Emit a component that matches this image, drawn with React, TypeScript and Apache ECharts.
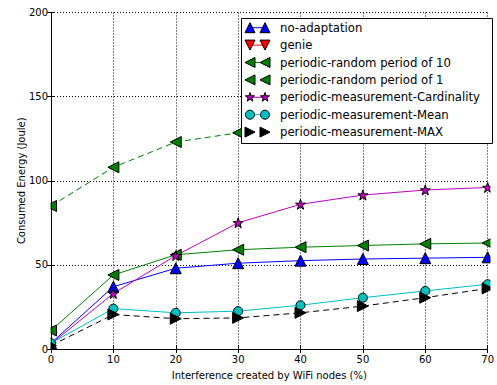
import React, { useEffect, useRef } from 'react';
import * as echarts from 'echarts';

const xValues = [0, 10, 20, 30, 40, 50, 60, 70];
const noAdaptation = [3.5, 37, 48, 51, 52.5, 53.5, 54, 54.5];
const genie: number[] = [];
const period10 = [11, 44, 56, 59, 60.5, 61.5, 62.5, 63];
const period1 = [85, 108, 123, 128.5, 131, 133, 135, 136.5];
const cardinality = [3, 33, 55.5, 75, 86, 91.5, 94.5, 96];
const meanSeries = [3.5, 24, 21.5, 22.5, 26, 30.5, 34.5, 38.5];
const maxSeries = [2, 20.5, 18, 18.5, 21.5, 25.5, 30.5, 36];

const seriesNames = [
  'no-adaptation',
  'genie',
  'periodic-random period of 10',
  'periodic-random period of 1',
  'periodic-measurement-Cardinality',
  'periodic-measurement-Mean',
  'periodic-measurement-MAX',
];
const xTitle = 'Interference created by WiFi nodes (%)';
const yTitle = 'Consumed Energy (Joule)';

const STAR =
  'path://M0,-10L2.35,-3.09L9.51,-3.09L3.8,1.18L5.88,8.09L0,3.82L-5.88,8.09L-3.8,1.18L-9.51,-3.09L-2.35,-3.09Z';

type Marker = 'up' | 'down' | 'left' | 'right' | 'star' | 'circle';
const styles: { color: string; marker: Marker; dashed: boolean }[] = [
  { color: '#0000ff', marker: 'up', dashed: false },
  { color: '#ff0000', marker: 'down', dashed: false },
  { color: '#008000', marker: 'left', dashed: false },
  { color: '#008000', marker: 'left', dashed: true },
  { color: '#bf00bf', marker: 'star', dashed: false },
  { color: '#00bfbf', marker: 'circle', dashed: false },
  { color: '#000000', marker: 'right', dashed: true },
];
const dataList = [noAdaptation, genie, period10, period1, cardinality, meanSeries, maxSeries];

const FONT = 'DejaVu Sans';

function symbolOf(m: Marker) {
  if (m === 'star') return { symbol: STAR, symbolSize: 10, symbolRotate: 0 };
  if (m === 'circle') return { symbol: 'circle', symbolSize: 9, symbolRotate: 0 };
  const rot = m === 'up' ? 0 : m === 'down' ? 180 : m === 'left' ? 90 : -90;
  return { symbol: 'triangle', symbolSize: 11, symbolRotate: rot };
}

function legendMarker(m: Marker, cx: number, cy: number, fill: string) {
  const s = 5;
  const style = { fill, stroke: '#000', lineWidth: 1 };
  if (m === 'circle') return { type: 'circle', shape: { cx, cy, r: 4.5 }, style };
  let pts: number[][];
  if (m === 'up') pts = [[cx, cy - s], [cx - s, cy + s], [cx + s, cy + s]];
  else if (m === 'down') pts = [[cx, cy + s], [cx - s, cy - s], [cx + s, cy - s]];
  else if (m === 'left') pts = [[cx - s, cy], [cx + s, cy - s], [cx + s, cy + s]];
  else if (m === 'right') pts = [[cx + s, cy], [cx - s, cy - s], [cx - s, cy + s]];
  else {
    pts = [];
    for (let k = 0; k < 10; k++) {
      const r = k % 2 === 0 ? 4.8 : 1.9;
      const a = -Math.PI / 2 + (k * Math.PI) / 5;
      pts.push([cx + r * Math.cos(a), cy + r * Math.sin(a)]);
    }
  }
  return { type: 'polygon', shape: { points: pts }, style };
}

export default function App() {
  const ref = useRef<HTMLDivElement>(null);
  useEffect(() => {
    if (!ref.current) return;
    const chart = echarts.init(ref.current, undefined, { renderer: 'svg' });

    const series = seriesNames.map((name, i) => {
      const st = styles[i];
      const sym = symbolOf(st.marker);
      return {
        name,
        type: 'line',
        z: 2,
        data: dataList[i].map((v, j) => [xValues[j], v]),
        ...sym,
        showAllSymbol: true,
        lineStyle: { color: st.color, width: 1, type: st.dashed ? [6, 4] : 'solid' },
        itemStyle: { color: st.color, borderColor: '#000', borderWidth: 1 },
        emphasis: { disabled: true },
      };
    });

    const W = 497;
    const L = 51;
    const R = 490;
    const T = 12.5;
    const B = 352.5;
    const graphics: any[] = [
      { type: 'rect', z: 100, shape: { x: 34, y: 0, width: L - 0.5 - 34, height: 362 }, style: { fill: '#fff' } },
      { type: 'rect', z: 100, shape: { x: R + 0.5, y: 0, width: W - R, height: 362 }, style: { fill: '#fff' } },
      { type: 'rect', z: 100, shape: { x: 34, y: B + 0.5, width: W - 34, height: 5 }, style: { fill: '#fff' } },
      { type: 'rect', z: 100, shape: { x: 34, y: 0, width: W - 34, height: T - 0.5 }, style: { fill: '#fff' } },
    ];

    const legendX = 241.5;
    const legendY = 18.5;
    const rowH = 17.4;
    graphics.push({
      type: 'rect',
      shape: { x: legendX, y: legendY, width: 251, height: 125 },
      style: { fill: '#fff', stroke: '#000', lineWidth: 1 },
      z: 100,
    });
    seriesNames.forEach((name, i) => {
      const st = styles[i];
      const cy = legendY + 9.2 + i * rowH;
      if (!st.dashed) {
        graphics.push({
          type: 'line',
          shape: { x1: 250, y1: cy, x2: 265, y2: cy },
          style: { stroke: st.color, lineWidth: 1 },
          z: 101,
        });
      }
      graphics.push({ ...legendMarker(st.marker, 250, cy, st.color), z: 102 });
      graphics.push({ ...legendMarker(st.marker, 265, cy, st.color), z: 102 });
    });

    const gridLine = { show: true, lineStyle: { color: '#000', width: 1, type: [1, 2] } };
    const axisLine = { show: true, lineStyle: { color: '#000', width: 1 } };
    const tick = { show: true, inside: true, length: 4, lineStyle: { color: '#000' } };

    chart.setOption({
      animation: false,
      textStyle: { fontFamily: FONT },
      grid: { left: L, right: W - R, top: T, bottom: 385 - B },
      legend: {
        z: 110,
        orient: 'vertical',
        left: 270,
        top: legendY + 9.2 - rowH / 2,
        padding: 0,
        itemGap: 0,
        itemWidth: 4,
        itemHeight: 8,
        selectedMode: false,
        data: seriesNames.map((n) => ({ name: n, icon: 'rect', itemStyle: { opacity: 0 } })),
        textStyle: { fontFamily: FONT, fontSize: 11.7, color: '#000', lineHeight: rowH, padding: 0 },
      },
      xAxis: [
        {
          type: 'value',
          z: 120,
          min: 0,
          max: 70,
          interval: 10,
          name: xTitle,
          nameLocation: 'middle',
          nameGap: 21,
          nameMoveOverlap: false,
          nameTextStyle: { fontSize: 10, color: '#000', fontFamily: FONT },
          axisLine,
          axisTick: tick,
          axisLabel: { color: '#000', fontSize: 10, margin: 5, fontFamily: FONT },
          splitLine: { show: false },
        },
        {
          type: 'value',
          z: 1,
          position: 'top',
          min: 0,
          max: 70,
          interval: 10,
          axisLine: { show: false },
          axisTick: { show: false },
          axisLabel: { show: false },
          splitLine: gridLine,
        },
        {
          type: 'value',
          z: 120,
          position: 'top',
          min: 0,
          max: 70,
          interval: 10,
          axisLine,
          axisTick: tick,
          axisLabel: { show: false },
          splitLine: { show: false },
        },
      ],
      yAxis: [
        {
          type: 'value',
          z: 120,
          min: 0,
          max: 200,
          interval: 50,
          name: yTitle,
          nameLocation: 'middle',
          nameGap: 25,
          nameMoveOverlap: false,
          nameTextStyle: { fontSize: 10, color: '#000', fontFamily: FONT },
          axisLine,
          axisTick: tick,
          axisLabel: { color: '#000', fontSize: 10, margin: 3, fontFamily: FONT },
          splitLine: { show: false },
        },
        {
          type: 'value',
          z: 1,
          position: 'right',
          min: 0,
          max: 200,
          interval: 50,
          axisLine: { show: false },
          axisTick: { show: false },
          axisLabel: { show: false },
          splitLine: gridLine,
        },
        {
          type: 'value',
          z: 120,
          position: 'right',
          min: 0,
          max: 200,
          interval: 50,
          axisLine,
          axisTick: tick,
          axisLabel: { show: false },
          splitLine: { show: false },
        },
      ],
      series,
      graphic: { elements: graphics },
    });
    return () => chart.dispose();
  }, []);

  return (
    <div
      ref={ref}
      style={{ position: 'fixed', left: 0, top: 0, width: 497, height: 385, background: '#fff' }}
    />
  );
}
